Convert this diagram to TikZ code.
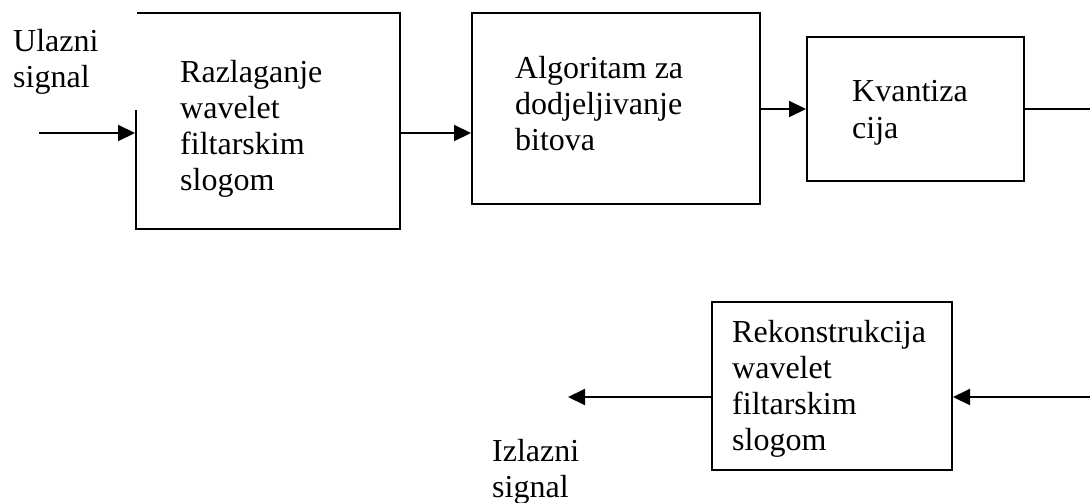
\documentclass[tikz,border=0pt]{standalone}
\usepackage{fontspec}
\setmainfont{Liberation Serif}
\usetikzlibrary{arrows.meta}
\begin{document}
\begin{tikzpicture}[x=1pt,y=-1pt,
  blk/.style={draw,line width=2pt,inner sep=0pt,anchor=center},
  lbl/.style={inner sep=0pt,anchor=base west,align=left,font=\fontsize{32}{36}\selectfont},
  conn/.style={line width=2pt},
  arr/.style={line width=2pt,-{Triangle[length=17pt,width=16pt]}}]
\useasboundingbox (0,0) rectangle (1090,503);
% blocks
\node[blk,minimum width=264pt,minimum height=216pt] (b1) at (268,121) {};
\node[blk,minimum width=288pt,minimum height=191pt] (b2) at (616,108.5) {};
\node[blk,minimum width=217pt,minimum height=144pt] (b3) at (915.5,109) {};
\node[blk,minimum width=240pt,minimum height=168pt] (b4) at (832,386) {};
% cover of the input label box
\fill[white] (132,11) rectangle (137,110);
% texts (anchored at the baseline of their last line)
\node[lbl] (t1) at (180,190) {Razlaganje\\wavelet\\filtarskim\\slogom};
\node[lbl] (t2) at (515,150) {Algoritam za\\dodjeljivanje\\bitova};
\node[lbl] (t3) at (852,138) {Kvantiza\\cija};
\node[lbl] (t4) at (732,450) {Rekonstrukcija\\wavelet\\filtarskim\\slogom};
\node[lbl] (tin) at (13,88) {Ulazni\\signal};
\node[lbl] (tout) at (492,497) {Izlazni\\signal};
% connectors
\coordinate (in) at (39,133);
\coordinate (q) at (1090,109);
\coordinate (r) at (1090,397);
\coordinate (out) at (568,397);
\draw[arr] (in) -- (in -| b1.west);
\draw[arr] (b1.east |- in) -- (b2.west |- in);
\draw[arr] (b2.east |- b3.west) -- (b3.west);
\draw[conn] (b3.east |- q) -- (q);
\draw[arr] (r) -- (b4.east |- r);
\draw[arr] (b4.west |- out) -- (out);
\end{tikzpicture}
\end{document}
